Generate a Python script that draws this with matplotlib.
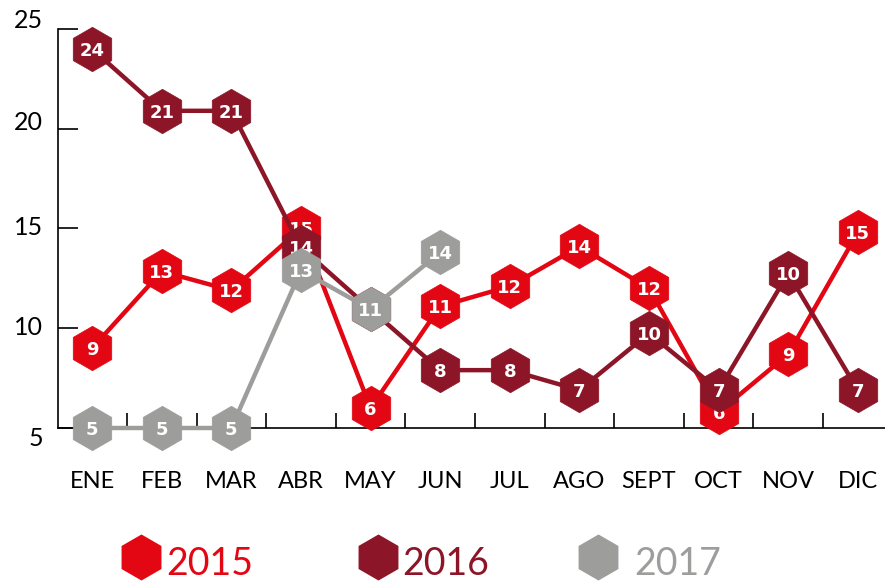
import matplotlib.pyplot as plt
from matplotlib.ticker import FixedLocator
from matplotlib.transforms import ScaledTranslation

months = ["ENE", "FEB", "MAR", "ABR", "MAY", "JUN", "JUL", "AGO", "SEPT", "OCT", "NOV", "DIC"]

pos_2015 = [9, 12.85, 11.9, 15, 6, 11.1, 12.1, 14.1, 12, 5.8, 8.7, 14.8]
lab_2015 = [9, 13, 12, 15, 6, 11, 12, 14, 12, 6, 9, 15]
pos_2016 = [24, 20.9, 20.9, 14.05, 10.95, 7.9, 7.9, 6.9, 9.75, 6.9, 12.75, 6.9]
lab_2016 = [24, 21, 21, 14, 11, 8, 8, 7, 10, 7, 10, 7]
pos_2017 = [5, 5, 5, 12.9, 10.95, 13.8]
lab_2017 = [5, 5, 5, 13, 11, 14]

years = ["2015", "2016", "2017"]
colors = ["#e30613", "#8c1627", "#9d9d9c"]
yticks = [5, 10, 15, 20, 25]

fig = plt.figure(figsize=(8.85, 5.83), dpi=100)
ax = fig.add_axes([58 / 885, 155 / 583, 827 / 885, 399 / 583])

series = [(pos_2015, lab_2015), (pos_2016, lab_2016), (pos_2017, lab_2017)]
for i, (pos, lab) in enumerate(series):
    z = 3 + i
    xs = range(len(pos))
    ax.plot(xs, pos, color=colors[i], lw=3.2, zorder=z, clip_on=False,
            solid_joinstyle="round")
    ax.plot(xs, pos, ls="none", marker="h", ms=32, mfc=colors[i], mec=colors[i],
            mew=0.5, zorder=z, clip_on=False)
    for x, y, t in zip(xs, pos, lab):
        ax.text(x, y, str(t), color="white", fontsize=13, fontweight="bold",
                family="DejaVu Sans", ha="center", va="center_baseline",
                zorder=z + 0.5, clip_on=False)

ax.set_xlim(-0.49, 11.39)
ax.set_ylim(5, 25)

ax.set_xticks(range(12))
ax.set_xticklabels(months, family="Lato", fontsize=17)
ax.xaxis.set_minor_locator(FixedLocator([k + 0.5 for k in range(11)]))
ax.tick_params(axis="x", which="major", length=0, pad=31)
ax.tick_params(axis="x", which="minor", direction="in", length=11, width=1.2)

ax.set_yticks(yticks)
ax.set_yticklabels([str(v) for v in yticks], family="Lato", fontsize=18)
ax.tick_params(axis="y", direction="in", length=14.5, width=1.2, pad=11)

# the y labels in the original sit a little off their ticks
shift_px = {5: 9, 10: -3, 15: -3, 20: -8, 25: -10}
for v, lbl in zip(yticks, ax.get_yticklabels()):
    lbl.set_transform(lbl.get_transform() +
                      ScaledTranslation(0, -shift_px[v] / 100, fig.dpi_scale_trans))

for s in ["top", "right"]:
    ax.spines[s].set_visible(False)
for s in ["left", "bottom"]:
    ax.spines[s].set_linewidth(1.2)

# legend drawn by hand along the bottom
leg_hex = [141, 378, 598]
leg_txt = [166, 402, 634]
for i in range(3):
    fig.lines.append(plt.Line2D([leg_hex[i] / 885], [1 - 557 / 583], transform=fig.transFigure,
                                marker="h", ms=32, mfc=colors[i], mec=colors[i], ls="none"))
    fig.text(leg_txt[i] / 885, 1 - 564 / 583, years[i], color=colors[i], family="Lato",
             fontsize=27, ha="left", va="center")

fig.savefig("out.png", dpi=100)
